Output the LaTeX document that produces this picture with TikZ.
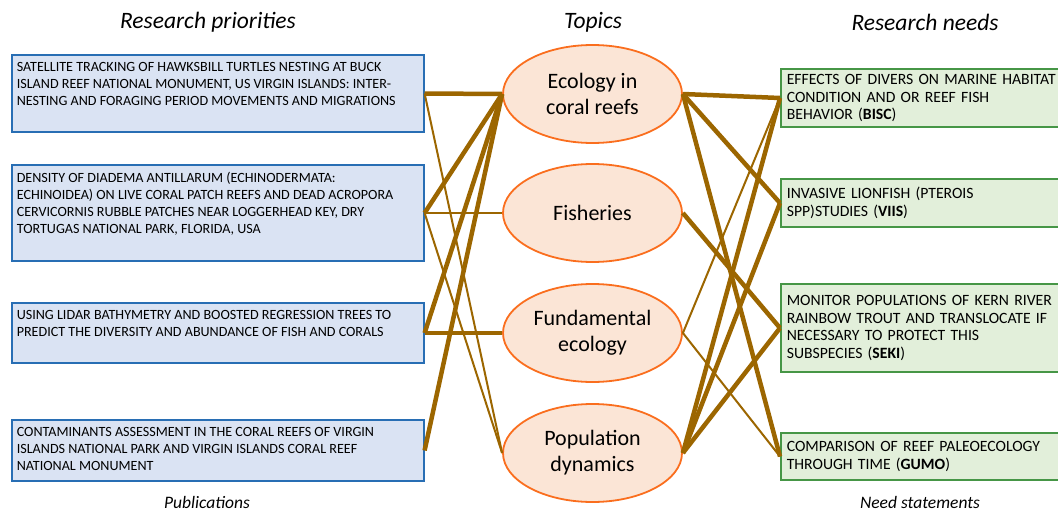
\documentclass[tikz,border=0pt]{standalone}
\usepackage{fontspec}
\setmainfont{Carlito}
\usepackage{tikz}
\usetikzlibrary{shapes.geometric}

\definecolor{pubfill}{RGB}{218,227,243}
\definecolor{publine}{RGB}{40,110,180}
\definecolor{topicfill}{RGB}{251,229,214}
\definecolor{topicline}{RGB}{250,110,30}
\definecolor{needfill}{RGB}{226,239,218}
\definecolor{needline}{RGB}{70,150,70}
\definecolor{linkbrown}{RGB}{156,102,0}

\newcommand{\pubtext}[2]{\parbox[c][#1][t]{402pt}{\raggedright #2}}

\begin{document}
\begin{tikzpicture}[x=1pt,y=-1pt,
	pub/.style={draw=publine, fill=pubfill, line width=1.6pt, anchor=west, inner xsep=5pt, inner ysep=7.5pt, font=\fontsize{14.1}{17}\selectfont},
	topic/.style={ellipse, draw=topicline, fill=topicfill, line width=1.8pt, minimum width=179pt, minimum height=98pt, inner sep=0pt, align=center, font=\fontsize{22}{26}\selectfont},
	need/.style={draw=needline, fill=needfill, line width=1.6pt, anchor=west, text width=300pt, inner xsep=6pt, align=left, font=\fontsize{15.7}{17.8}\selectfont},
	head/.style={font=\fontsize{23.5}{27}\selectfont\itshape},
	foot/.style={font=\fontsize{17.5}{20}\selectfont\itshape},
	link/.style={draw=linkbrown, line width=4.5pt},
	weak/.style={draw=linkbrown, line width=2pt}]

			\useasboundingbox (0,0) rectangle (1058,511);
			\clip (0,0) rectangle (1058,511);

			%Headings
			\node[head] (hpub) at (208,22) {Research priorities};
			\node[head] (htopic) at (593,22) {Topics};
			\node[head] (hneed) at (925,22) {Research needs};
			\node[foot] (fpub) at (207,502) {Publications};
			\node[foot] (fneed) at (920,502) {Need statements};

			%Publications
			\node[pub] (pub1) at (11,93.5) {\pubtext{62pt}{SATELLITE TRACKING OF HAWKSBILL TURTLES NESTING AT BUCK\\ISLAND REEF NATIONAL MONUMENT, US VIRGIN ISLANDS: INTER-\\NESTING AND FORAGING PERIOD MOVEMENTS AND MIGRATIONS}};
			\node[pub] (pub2) at (11,213) {\pubtext{81pt}{DENSITY OF DIADEMA ANTILLARUM (ECHINODERMATA:\\ECHINOIDEA) ON LIVE CORAL PATCH REEFS AND DEAD ACROPORA\\CERVICORNIS RUBBLE PATCHES NEAR LOGGERHEAD KEY, DRY\\TORTUGAS NATIONAL PARK, FLORIDA, USA}};
			\node[pub] (pub3) at (11,333) {\pubtext{45pt}{USING LIDAR BATHYMETRY AND BOOSTED REGRESSION TREES TO\\PREDICT THE DIVERSITY AND ABUNDANCE OF FISH AND CORALS}};
			\node[pub] (pub4) at (11,450.5) {\pubtext{46pt}{CONTAMINANTS ASSESSMENT IN THE CORAL REEFS OF VIRGIN\\ISLANDS NATIONAL PARK AND VIRGIN ISLANDS CORAL REEF\\NATIONAL MONUMENT}};

			%Topics
			\node[topic] (topic1) at (592.5,94) {Ecology in\\coral reefs};
			\node[topic] (topic2) at (592.5,213) {Fisheries};
			\node[topic] (topic3) at (592.5,333) {Fundamental\\ecology};
			\node[topic] (topic4) at (592.5,453) {Population\\dynamics};

			%Need statements
			\node[need, minimum height=58pt] (need1) at (780,98) {EFFECTS OF DIVERS ON MARINE HABITAT\\CONDITION AND OR REEF FISH\\BEHAVIOR (\textbf{BISC})};
			\node[need, minimum height=48pt] (need2) at (780,203) {INVASIVE LIONFISH (PTEROIS\\SPP)STUDIES (\textbf{VIIS})};
			\node[need, minimum height=88pt] (need3) at (780,328) {MONITOR POPULATIONS OF KERN RIVER\\RAINBOW TROUT AND TRANSLOCATE IF\\NECESSARY TO PROTECT THIS\\SUBSPECIES (\textbf{SEKI})};
			\node[need, minimum height=47pt] (need4) at (780,456.5) {COMPARISON OF REEF PALEOECOLOGY\\THROUGH TIME (\textbf{GUMO})};

			%Links publications - topics
			\foreach \a/\b in {pub1/topic1, pub2/topic1, pub3/topic1, pub4/topic1, pub3/topic3}
			\draw[link] (\a.east) -- (\b.west);
			\foreach \a/\b in {pub1/topic4, pub2/topic4, pub2/topic2}
			\draw[weak] (\a.east) -- (\b.west);

			%Links topics - needs
			\foreach \a/\b in {topic1/need1, topic1/need2, topic1/need4, topic2/need3, topic4/need1, topic4/need2, topic4/need3}
			\draw[link] (\a.east) -- (\b.west);
			\foreach \a/\b in {topic3/need1, topic3/need4}
			\draw[weak] (\a.east) -- (\b.west);
\end{tikzpicture}
\end{document}
